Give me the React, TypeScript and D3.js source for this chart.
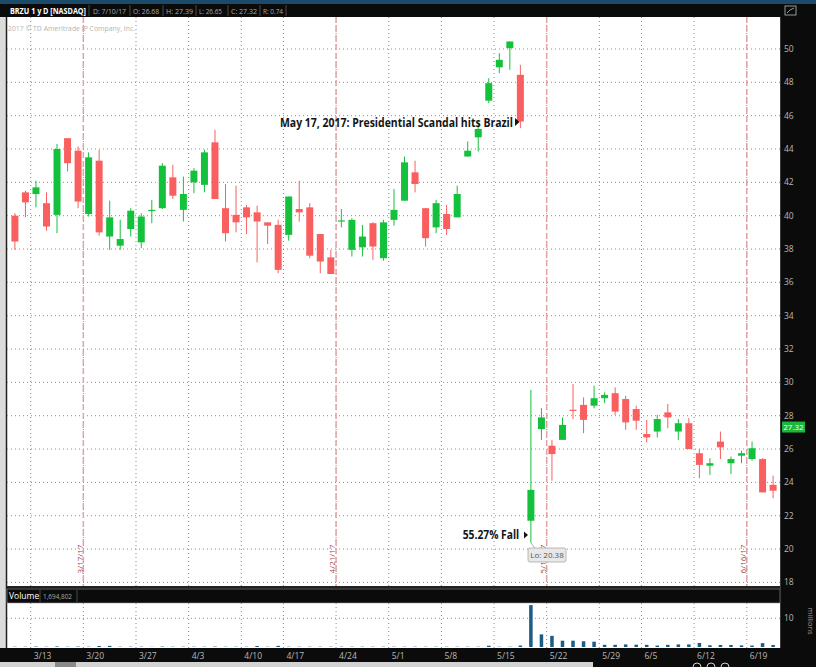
import React from "react";
import * as d3 from "d3";

const dates = [
  "3/9","3/10","3/13","3/14","3/15","3/16","3/17","3/20","3/21","3/22","3/23","3/24","3/27","3/28","3/29","3/30","3/31",
  "4/3","4/4","4/5","4/6","4/7","4/10","4/11","4/12","4/13","4/17","4/18","4/19","4/20","4/21","4/24","4/25","4/26","4/27","4/28",
  "5/1","5/2","5/3","5/4","5/5","5/8","5/9","5/10","5/11","5/12","5/15","5/16","5/17","5/18","5/19","5/22","5/23","5/24","5/25","5/26","5/30","5/31",
  "6/1","6/2","6/5","6/6","6/7","6/8","6/9","6/12","6/13","6/14","6/15","6/16","6/19","6/20","6/21"
];
const opens = [40.0,41.4,41.3,40.75,40.05,44.65,43.9,40.1,43.3,38.75,38.2,39.2,38.4,40.3,40.45,42.3,40.35,42.0,41.85,44.4,40.45,40.05,40.5,40.2,39.6,39.45,38.85,40.4,40.5,38.9,37.5,39.68,37.95,38.1,39.55,37.45,39.75,40.9,42.6,40.45,39.3,40.1,39.9,43.55,44.7,46.9,48.9,50.05,48.45,21.7,27.2,26.2,26.55,28.36,28.65,28.6,29.05,29.35,29.0,28.4,26.9,27.05,28.2,27.05,27.55,25.75,25.0,26.45,25.15,25.6,25.4,25.4,23.85];
const highs = [40.15,41.5,42.1,41.4,44.3,44.65,44.15,43.8,43.95,40.9,39.75,40.45,40.15,40.95,43.15,43.05,42.35,42.85,43.95,45.15,41.9,41.8,40.65,40.6,39.6,39.75,41.15,42.1,40.75,38.9,37.95,40.4,39.85,39.45,39.6,39.75,41.6,43.55,43.3,40.45,40.95,40.65,41.8,44.45,45.65,48.25,49.75,50.45,49.05,29.55,28.45,26.55,27.9,29.9,29.1,29.8,29.4,29.7,29.2,28.6,27.75,28.05,28.7,27.8,27.85,26.0,25.45,27.05,25.55,25.9,26.45,25.45,24.4];
const lows = [37.95,39.9,40.5,39.1,38.95,42.65,40.45,39.95,38.8,37.95,37.95,38.75,38.05,39.55,40.4,41.0,39.65,41.35,41.4,41.0,38.45,39.0,38.9,37.2,38.3,36.55,38.5,39.65,37.45,36.55,36.5,39.3,37.55,37.55,37.35,37.3,39.4,40.9,41.4,38.15,38.95,38.85,39.9,43.55,43.85,46.75,48.55,48.75,45.25,20.38,26.55,24.1,26.55,27.8,26.95,28.45,28.75,28.05,27.15,27.15,26.4,26.7,27.25,26.55,26.0,24.25,24.45,25.4,24.5,25.15,25.3,23.4,23.05];
const closes = [38.45,40.8,41.7,39.35,44.0,43.15,40.85,43.5,39.0,39.9,38.6,40.3,39.95,40.35,43.0,41.2,41.3,42.7,43.8,41.0,38.95,39.6,39.9,39.65,39.4,36.75,41.15,40.2,37.6,37.25,36.5,39.72,39.75,38.75,38.15,39.6,40.35,43.2,41.9,38.65,40.75,39.2,41.3,43.9,45.2,47.95,49.35,50.45,45.65,23.55,27.9,25.7,27.45,28.32,27.75,29.05,29.25,28.25,27.6,27.7,26.7,27.8,27.9,27.55,26.0,25.05,25.15,26.1,25.4,25.75,26.05,23.4,23.5];
const volumes = [0.1,0.1,0.15,0.1,0.2,0.1,0.15,0.1,0.35,0.4,0.1,0.1,0.1,0.05,0.15,0.1,0.1,0.1,0.1,0.15,0.1,0.1,0.1,0.35,0.1,0.4,0.1,0.1,0.1,0.1,0.1,0.1,0.1,0.1,0.1,0.1,0.1,0.1,0.1,0.1,0.1,0.1,0.1,0.1,0.1,0.45,0.1,0.1,0.5,14.6,4.4,3.9,2.2,2.2,2.0,1.85,0.75,0.75,0.9,0.8,0.75,0.5,0.75,0.9,0.9,1.4,0.6,0.7,0.7,0.55,0.5,1.35,0.7];

const priceTicks = [18,20,22,24,26,28,30,32,34,36,38,40,42,44,46,48,50];
const axisLabels = ["3/13","3/20","3/27","4/3","4/10","4/17","4/24","5/1","5/8","5/15","5/22","5/29","6/5","6/12","6/19"];
const axisDates = ["3/13","3/20","3/27","4/3","4/10","4/17","4/24","5/1","5/8","5/15","5/22","5/30","6/5","6/12","6/19"];
const eventDates = ["3/17","4/21","5/19","6/16"];
const eventLabels = ["3/17/17","4/21/17","5/19/17","6/16/17"];
const headerItems = ["D: 7/10/17","O: 26.68","H: 27.39","L: 26.65","C: 27.32","R: 0.74"];
const volumeTicks = [10];

const FONT = "'Open Sans', 'DejaVu Sans', sans-serif";
const GREEN = "#14c13c";
const RED = "#fa5f5f";

export default function App() {
  const W = 816, H = 667;
  const plotL = 7, plotR = 780, plotT = 17, plotB = 587;
  const volT = 603, volB = 648;
  const x = d3.scaleLinear().domain([0, dates.length - 1]).range([14.9, 773.1]);
  const y = d3.scaleLinear().domain([18, 50]).range([582.4, 49]);
  const vy = d3.scaleLinear().domain([0, 10]).range([647, 618.3]);
  const step = x(1) - x(0);
  const idx = (d: string) => dates.indexOf(d);
  const gridXs = axisDates.map((d) => x(idx(d)) - step / 2);
  const eventXs = eventDates.map((d) => x(idx(d)) + step / 2);

  const headerPos = [93, 133, 166, 199, 231, 263];
  const headerLen = [33, 26, 27, 23, 26, 20];
  const headerSeps = [89, 130, 163, 196, 228, 260, 286];

  const lastPrice = 27.32;
  const lowIdx = idx("5/18");

  return (
    <svg width={W} height={H} style={{ position: "absolute", left: 0, top: 0, display: "block" }} fontFamily={FONT}>
      <rect x={0} y={0} width={W} height={H} fill="#0b0b0b" />
      <rect x={0} y={0} width={W} height={4} fill="#1b4a6b" />
      <rect x={0} y={17} width={6} height={645} fill="#dcdcdc" />
      <rect x={plotL} y={plotT} width={plotR - plotL} height={plotB - plotT} fill="#ffffff" />
      <rect x={plotL} y={volT} width={plotR - plotL} height={volB - volT} fill="#ffffff" />
      <line x1={6.5} x2={6.5} y1={17} y2={662} stroke="#222" strokeWidth={1.5} />

      {/* header */}
      <text x={10} y={13.5} fontSize={8} fontWeight={700} fill="#ffffff" textLength={76} lengthAdjust="spacingAndGlyphs">BRZU 1 y D [NASDAQ]</text>
      {headerSeps.map((sx, i) => (
        <line key={"hs" + i} x1={sx} x2={sx} y1={5} y2={16} stroke="#4a4a4a" />
      ))}
      {headerItems.map((t, i) => (
        <text key={"hi" + i} x={headerPos[i]} y={13.5} fontSize={8} fill="#a8a8a8" textLength={headerLen[i]} lengthAdjust="spacingAndGlyphs">{t}</text>
      ))}
      <rect x={785} y={6} width={11} height={9} fill="none" stroke="#bbb" strokeWidth={0.8} />
      <path d="M787,13 L790,10 L794,8" fill="none" stroke="#bbb" strokeWidth={0.8} />

      <text x={8} y={31} fontSize={7.5} fill="#b4b4b4" textLength={127} lengthAdjust="spacingAndGlyphs">2017 © TD Ameritrade IP Company, Inc.</text>

      {/* horizontal grid */}
      {priceTicks.map((p) => (
        <line key={"hg" + p} x1={plotL} x2={plotR} y1={y(p)} y2={y(p)} stroke="#8c8c8c" strokeDasharray="1,3" />
      ))}
      {/* vertical grid */}
      {gridXs.map((gx, i) => (
        <g key={"vg" + i}>
          <line x1={gx} x2={gx} y1={plotT} y2={plotB} stroke="#8c8c8c" strokeDasharray="1,3" />
          <line x1={gx} x2={gx} y1={volT} y2={volB} stroke="#8c8c8c" strokeDasharray="1,3" />
        </g>
      ))}
      {volumeTicks.map((v) => (
        <line key={"vt" + v} x1={plotL} x2={plotR} y1={vy(v)} y2={vy(v)} stroke="#8c8c8c" strokeDasharray="1,3" />
      ))}

      {/* event lines */}
      {eventXs.map((ex, i) => (
        <g key={"ev" + i}>
          <line x1={ex} x2={ex} y1={plotT} y2={plotB} stroke="#e3a3a8" strokeWidth={1.5} strokeDasharray="6,3" />
          <text transform={`translate(${ex - 0.8},${559}) rotate(-90)`} textAnchor="middle" fontSize={8} fill="#9b4848">{eventLabels[i]}</text>
        </g>
      ))}

      {/* candles */}
      {dates.map((d, i) => {
        const o = opens[i], c = closes[i], h = highs[i], l = lows[i];
        const col = c >= o ? GREEN : RED;
        const top = y(Math.max(o, c));
        const bh = Math.max(1.2, Math.abs(y(o) - y(c)));
        return (
          <g key={"c" + d}>
            <line x1={x(i)} x2={x(i)} y1={y(h)} y2={y(l)} stroke={col} strokeWidth={1} />
            <rect x={x(i) - 3.5} y={top} width={7} height={bh} fill={col} />
          </g>
        );
      })}

      {/* volume bars */}
      {volumes.map((v, i) => (
        <rect key={"v" + i} x={x(i) - 1.75} y={vy(v)} width={3.5} height={vy(0) - vy(v)} fill="#1c5d86" />
      ))}

      {/* annotations */}
      <text x={280} y={126.5} fontSize={13} fontWeight={700} fill="#151515" textLength={233} lengthAdjust="spacingAndGlyphs">May 17, 2017: Presidential Scandal hits Brazil</text>
      <path d="M515,118 L519.5,122 L515,126 Z" fill="#151515" />
      <text x={462.7} y={538.5} fontSize={12} fontWeight={700} fill="#151515" textLength={56.5} lengthAdjust="spacingAndGlyphs">55.27% Fall</text>
      <path d="M524,531.5 L528,535 L524,538.5 Z" fill="#151515" />

      <line x1={x(lowIdx)} x2={535} y1={y(20.38)} y2={548.5} stroke="#999" strokeWidth={0.8} />
      <rect x={528} y={548} width={38} height={14} rx={2} fill="#e8e8e8" stroke="#a8a8a8" strokeWidth={0.8} />
      <text x={547} y={558} textAnchor="middle" fontSize={8} fill="#555">Lo: 20.38</text>

      {/* volume header */}
      <line x1={plotL} x2={plotR} y1={587} y2={587} stroke="#222" strokeWidth={2} />
      <rect x={plotL} y={589} width={plotR - plotL} height={14} fill="#0b0b0b" stroke="#9a9a9a" strokeWidth={0.6} />
      <text x={9} y={599} fontSize={8.5} fill="#ffffff">Volume</text>
      <line x1={40} x2={40} y1={590} y2={602} stroke="#4a4a4a" />
      <text x={43} y={599} fontSize={8} fill="#a8a8a8" textLength={29} lengthAdjust="spacingAndGlyphs">1,694,802</text>
      <line x1={77} x2={77} y1={590} y2={602} stroke="#4a4a4a" />

      {/* right price axis */}
      <line x1={780.5} x2={780.5} y1={17} y2={648} stroke="#3a3a3a" />
      {priceTicks.map((p) => (
        <text key={"pt" + p} x={784} y={y(p) + 3} fontSize={8.5} fill="#b8b8b8">{p}</text>
      ))}
      <rect x={782} y={y(lastPrice) - 5.5} width={23} height={11} fill="#1db53a" />
      <text x={793.5} y={y(lastPrice) + 3} textAnchor="middle" fontSize={8} fill="#ffffff">{lastPrice.toFixed(2)}</text>

      {volumeTicks.map((v) => (
        <text key={"va" + v} x={784} y={vy(v) + 3} fontSize={8.5} fill="#b8b8b8">{v}</text>
      ))}
      <text transform="translate(808,621) rotate(90)" textAnchor="middle" fontSize={7.5} fill="#a0a0a0">millions</text>

      {/* bottom axis */}
      <rect x={0} y={648} width={W} height={14} fill="#0b0b0b" />
      {axisLabels.map((t, i) => (
        <text key={"xl" + i} x={gridXs[i] + 3} y={658.5} fontSize={8.5} fill="#b8b8b8">{t}</text>
      ))}

      {/* scroll strip */}
      <rect x={0} y={662} width={593} height={5} fill="#d2d2d2" />
      <rect x={55} y={662} width={21} height={5} fill="#8a8a8a" />
      {[697, 711, 725].map((cx, i) => (
        <circle key={"ic" + i} cx={cx} cy={667} r={4} fill="none" stroke="#cfcfcf" strokeWidth={1} />
      ))}
    </svg>
  );
}
